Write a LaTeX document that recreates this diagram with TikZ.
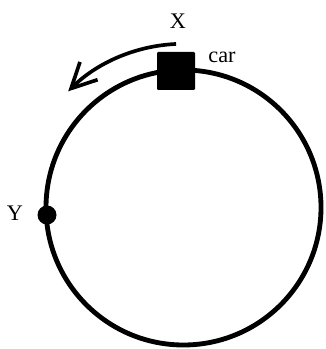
\documentclass[tikz,border=0pt]{standalone}
\usepackage{fontspec}
\setmainfont{Liberation Serif}
\usetikzlibrary{arrows.meta}
\tikzset{lbl/.style={font=\fontsize{19}{22}\selectfont, inner sep=0pt}}
\begin{document}
\begin{tikzpicture}[x=0.03cm,y=-0.03cm]
	\useasboundingbox (0,0) rectangle (325,349);
	\coordinate (ctr) at (183.5,207.5);
	\draw[line width=0.145cm] (ctr) circle (137.5);
	\node[fill=black, minimum size=1.14cm, inner sep=0pt, rounded corners=1pt] (car) at (176,71) {};
	\node[lbl] (carlbl) at (222,57) {car};
	\node[lbl] (xlbl) at (178,21) {X};
	\draw[line width=0.11cm, -{Straight Barb[length=7.5mm,width=7.5mm]}] (ctr) ++(-92.6:163.7) arc (-92.6:-134.8:163.7);
	\node[circle, fill=black, minimum size=0.57cm, inner sep=0pt] (y) at (47,215) {};
	\node[lbl] (ylbl) at (15,213) {Y};
\end{tikzpicture}
\end{document}
